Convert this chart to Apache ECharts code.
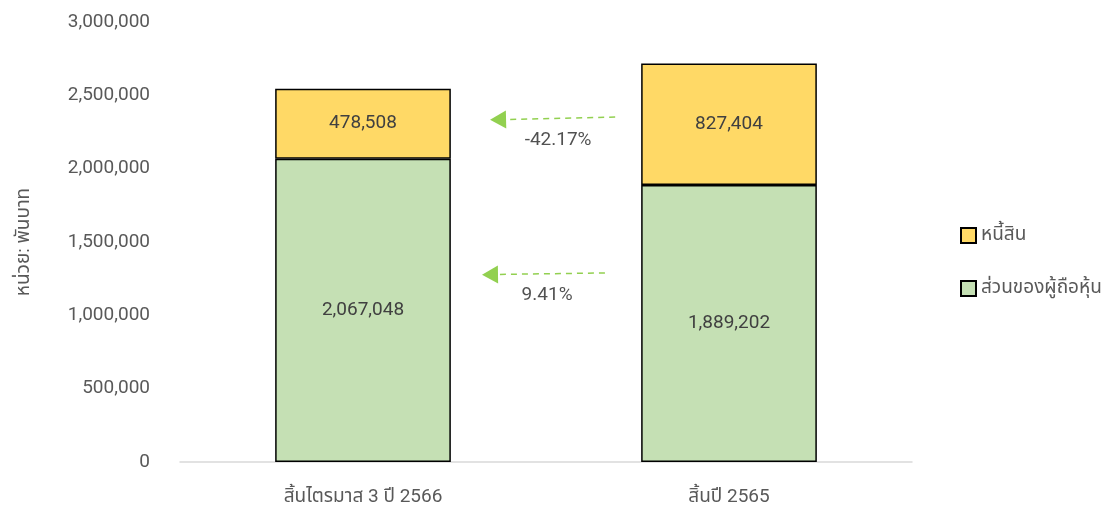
<!DOCTYPE html>
<html>
<head>
<meta charset="utf-8">
<script src="https://cdn.jsdelivr.net/npm/echarts@6/dist/echarts.min.js"></script>
<style>
  html, body { margin: 0; padding: 0; background: #fff; }
  #chart { width: 1111px; height: 509px; }
</style>
</head>
<body>
<div id="chart"></div>
<script>
var categories = ['สิ้นไตรมาส 3 ปี 2566', 'สิ้นปี 2565']
var equity = [2067048, 1889202]
var liabilities = [478508, 827404]
var changeLabels = ['-42.17%', '9.41%']

var fontFamily = "Roboto, 'Noto Sans Thai', 'DejaVu Sans', sans-serif"
var textColor = '#595959'

var chart = echarts.init(document.getElementById('chart'))

chart.setOption({
  animation: false,
  textStyle: { fontFamily: fontFamily },
  grid: { left: 180, right: 199, top: 22, bottom: 47, containLabel: false, outerBoundsMode: 'none' },
  legend: {
    orient: 'vertical',
    left: 955,
    top: 221,
    itemWidth: 15,
    itemHeight: 15,
    itemGap: 34,
    icon: 'rect',
    data: ['หนี้สิน', 'ส่วนของผู้ถือหุ้น'],
    textStyle: { fontSize: 19, color: textColor, fontFamily: fontFamily }
  },
  xAxis: [{
    type: 'category',
    data: categories,
    axisLine: { lineStyle: { color: '#d9d9d9', width: 1.5 } },
    axisTick: { show: false },
    axisLabel: { fontSize: 19, color: textColor, margin: 26 }
  }, {
    // helper axis used only to place the arrows between the bars
    type: 'value',
    min: 0,
    max: 2,
    show: false
  }],
  yAxis: {
    type: 'value',
    min: 0,
    max: 3000000,
    interval: 500000,
    name: 'หน่วย: พันบาท',
    nameLocation: 'middle',
    nameRotate: 90,
    nameGap: 146,
    nameTextStyle: { fontSize: 19, color: textColor },
    axisLine: { show: false },
    axisTick: { show: false },
    splitLine: { show: false },
    axisLabel: {
      fontSize: 19,
      color: textColor,
      margin: 30,
      formatter: function (v) { return v.toLocaleString('en-US') }
    }
  },
  series: [{
    name: 'ส่วนของผู้ถือหุ้น',
    type: 'bar',
    stack: 'total',
    barWidth: '48%',
    data: equity,
    itemStyle: { color: '#c5e0b4', borderColor: '#000', borderWidth: 1.5 },
    label: {
      show: true,
      position: 'inside',
      fontSize: 19,
      color: '#404040',
      formatter: function (p) { return p.value.toLocaleString('en-US') }
    }
  }, {
    name: 'หนี้สิน',
    type: 'bar',
    stack: 'total',
    barWidth: '48%',
    data: liabilities,
    itemStyle: { color: '#ffd966', borderColor: '#000', borderWidth: 1.5 },
    label: {
      show: true,
      position: 'inside',
      fontSize: 19,
      color: '#404040',
      formatter: function (p) { return p.value.toLocaleString('en-US') }
    }
  }, {
    // percentage change labels
    name: 'change',
    type: 'scatter',
    xAxisIndex: 1,
    symbolSize: 0,
    silent: true,
    data: [[1.033, 2195000], [1.003, 1139000]],
    label: {
      show: true,
      position: 'inside',
      fontSize: 19,
      color: '#262626',
      formatter: function (p) { return changeLabels[p.dataIndex] }
    }
  }, {
    // dashed arrows
    name: 'arrows',
    type: 'line',
    xAxisIndex: 1,
    data: [],
    silent: true,
    markLine: {
      silent: true,
      symbol: ['none', 'triangle'],
      symbolSize: [18, 16],
      label: { show: false },
      lineStyle: { color: '#92d050', type: [6, 5], width: 1.5 },
      itemStyle: { color: '#92d050' },
      data: [
        [{ coord: [1.189, 2352000] }, { coord: [0.869, 2334000] }],
        [{ coord: [1.161, 1289000] }, { coord: [0.847, 1278000] }]
      ]
    }
  }]
})
</script>
</body>
</html>
